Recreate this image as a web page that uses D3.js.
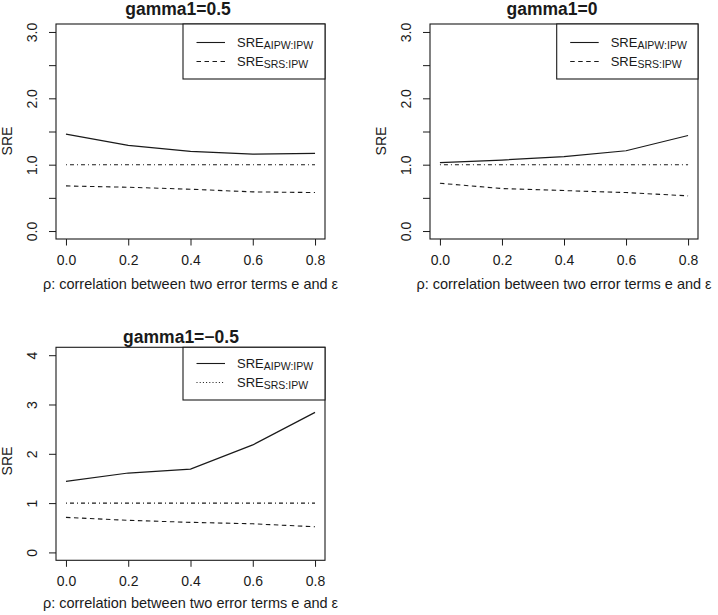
<!DOCTYPE html>
<html><head><meta charset="utf-8">
<script src="https://d3js.org/d3.v7.min.js"></script>
<style>
body { margin: 0; background: #fff; }
svg text { font-family: "Liberation Sans", Arial, sans-serif; fill: #1a1a1a; }
</style>
</head><body>
<svg id="chart" width="718" height="615"></svg>
<script>
// rho values on the x axis
var rho = [0, 0.2, 0.4, 0.6, 0.8];

// gamma1 = 0.5
var aipw_g1 = [1.46, 1.29, 1.20, 1.16, 1.17];
var srs_g1  = [0.68, 0.66, 0.63, 0.59, 0.58];
// gamma1 = 0
var aipw_g2 = [1.03, 1.07, 1.12, 1.21, 1.44];
var srs_g2  = [0.72, 0.64, 0.61, 0.58, 0.53];
// gamma1 = -0.5
var aipw_g3 = [1.44, 1.61, 1.69, 2.18, 2.84];
var srs_g3  = [0.71, 0.65, 0.61, 0.58, 0.52];
// reference line
var refLine = [1, 1, 1, 1, 1];

var xTicks = [0, 0.2, 0.4, 0.6, 0.8];
var yTicksA = [0, 0.5, 1, 1.5, 2, 2.5, 3];
var yTicksB = [0, 1, 2, 3, 4];

var titles = ["gamma1=0.5", "gamma1=0", "gamma1=\u22120.5"];
var xTitle = "\u03c1: correlation between two error terms e and \u03b5";
var legendSubs = ["AIPW:IPW", "SRS:IPW"];

var ink = "#1a1a1a";
var svg = d3.select("#chart");

var panels = [
  {title: titles[0], aipw: aipw_g1, srs: srs_g1, yMax: 3, yTicks: yTicksA, legendDot: false,
   left: 56, right: 325, top: 24, bottom: 239, titleX: 178, titleY: 14.5, ylabX: 12, ylabY: 141, xlabY: 289,
   legLeft: 183, legBottom: 79},
  {title: titles[1], aipw: aipw_g2, srs: srs_g2, yMax: 3, yTicks: yTicksA, legendDot: false,
   left: 430, right: 698, top: 24, bottom: 239, titleX: 552, titleY: 14.5, ylabX: 386, ylabY: 141, xlabY: 289,
   legLeft: 556.7, legBottom: 79},
  {title: titles[2], aipw: aipw_g3, srs: srs_g3, yMax: 4, yTicks: yTicksB, legendDot: true,
   left: 56, right: 325, top: 347.3, bottom: 560.3, titleX: 181, titleY: 342.5, ylabX: 12, ylabY: 461, xlabY: 608,
   legLeft: 183, legBottom: 400}
];

panels.forEach(drawPanel);

function drawPanel(p) {
  var x = d3.scaleLinear().domain([-0.032, 0.832]).range([p.left, p.right]);
  var pad = p.yMax * 0.04;
  var y = d3.scaleLinear().domain([-pad, p.yMax + pad]).range([p.bottom, p.top]);
  var g = svg.append("g");

  // x axis
  var xa = g.append("g")
      .attr("transform", "translate(0," + p.bottom + ")")
      .call(d3.axisBottom(x).tickValues(xTicks).tickFormat(d3.format(".1f")).tickSizeOuter(0).tickSize(6.5));
  xa.select(".domain").remove();
  xa.selectAll(".tick line").attr("stroke", ink);
  xa.selectAll(".tick text").attr("y", 26).attr("dy", 0)
      .style("font-size", "14px").attr("fill", ink);

  // y axis
  var yFmt = p.yMax === 3 ? function(d) { return d % 1 === 0 ? d3.format(".1f")(d) : ""; } : d3.format("d");
  var ya = g.append("g")
      .attr("transform", "translate(" + p.left + ",0)")
      .call(d3.axisLeft(y).tickValues(p.yTicks).tickFormat(yFmt).tickSizeOuter(0).tickSize(7));
  ya.select(".domain").remove();
  ya.selectAll(".tick line").attr("stroke", ink);
  ya.selectAll(".tick text")
      .attr("transform", "rotate(-90)")
      .attr("x", 0).attr("y", -19.3).attr("dy", 0)
      .attr("text-anchor", "middle")
      .style("font-size", "14px").attr("fill", ink);

  // box
  g.append("rect")
      .attr("x", p.left).attr("y", p.top)
      .attr("width", p.right - p.left).attr("height", p.bottom - p.top)
      .attr("fill", "none").attr("stroke", ink).attr("stroke-width", 1.1);

  var line = d3.line().x(function(d, i) { return x(rho[i]); }).y(function(d) { return y(d); });

  g.append("path").datum(refLine).attr("d", line)
      .attr("fill", "none").attr("stroke", ink).attr("stroke-width", 1.1)
      .attr("stroke-dasharray", "1,3,4,3");
  g.append("path").datum(p.srs).attr("d", line)
      .attr("fill", "none").attr("stroke", ink).attr("stroke-width", 1.1)
      .attr("stroke-dasharray", "4.5,3.5");
  g.append("path").datum(p.aipw).attr("d", line)
      .attr("fill", "none").attr("stroke", ink).attr("stroke-width", 1.2);

  // title
  g.append("text").attr("x", p.titleX).attr("y", p.titleY)
      .attr("text-anchor", "middle").style("font-size", "17.5px").style("font-weight", "bold")
      .text(p.title);

  // axis titles
  g.append("text").attr("x", (p.left + p.right) / 2).attr("y", p.xlabY)
      .attr("text-anchor", "middle").style("font-size", "14.5px").text(xTitle);
  g.append("text")
      .attr("transform", "translate(" + p.ylabX + "," + p.ylabY + ") rotate(-90)")
      .attr("text-anchor", "middle").style("font-size", "14px").text("SRE");

  // legend
  var legTop = p.top;
  g.append("rect")
      .attr("x", p.legLeft).attr("y", legTop)
      .attr("width", p.right - p.legLeft).attr("height", p.legBottom - legTop)
      .attr("fill", "#fff").attr("stroke", ink).attr("stroke-width", 1.1);
  var dashes = [null, p.legendDot ? "1,2.2" : "4.5,3.5"];
  var rowY = [p.legBottom - 36.5, p.legBottom - 17.5];
  legendSubs.forEach(function(sub, i) {
    var ly = rowY[i];
    var l = g.append("line")
        .attr("x1", p.legLeft + 13.5).attr("x2", p.legLeft + 42)
        .attr("y1", ly).attr("y2", ly)
        .attr("stroke", ink).attr("stroke-width", 1.1);
    if (dashes[i]) l.attr("stroke-dasharray", dashes[i]);
    var t = g.append("text").attr("x", p.legLeft + 54).attr("y", ly + 4)
        .style("font-size", "13px");
    t.append("tspan").text("SRE");
    t.append("tspan").attr("dy", 2).style("font-size", "10.5px").text(sub);
  });
}
</script>
</body></html>
